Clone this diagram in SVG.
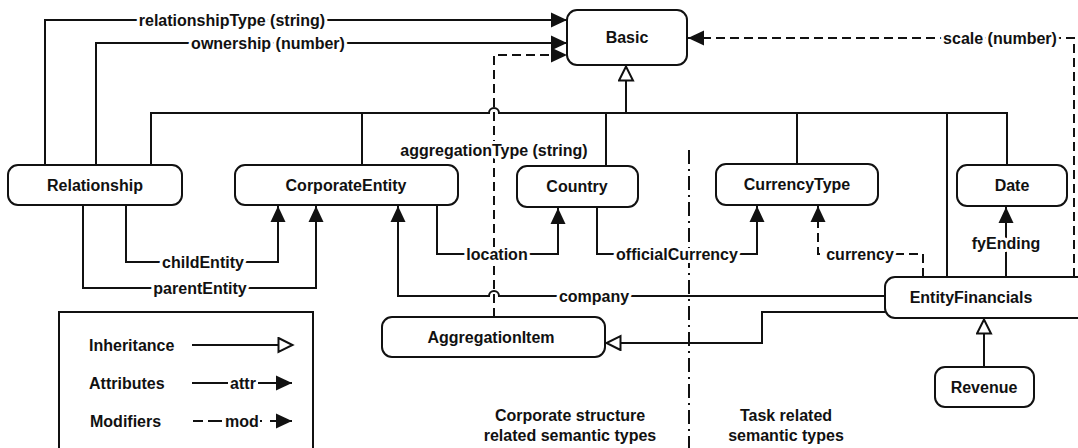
<svg xmlns="http://www.w3.org/2000/svg" width="1078" height="448" viewBox="0 0 1078 448">
<style>
text{font-family:"Liberation Sans",Arial,sans-serif;font-size:16px;font-weight:bold;fill:#111}
.node rect{fill:#fff;stroke:#111;stroke-width:2}
.c{fill:none;stroke:#111;stroke-width:2}
.d{stroke-dasharray:9,5}
.lbl{text-anchor:middle;stroke:#fff;stroke-width:6;paint-order:stroke;stroke-linejoin:round}
.nt{text-anchor:middle}
</style>
<defs>
<marker id="fa" markerUnits="userSpaceOnUse" markerWidth="18" markerHeight="18" refX="16" refY="8" orient="auto">
<path d="M0,0.5 L16,8 L0,15.5 z" fill="#111" stroke="none"/>
</marker>
<marker id="ha" markerUnits="userSpaceOnUse" markerWidth="20" markerHeight="18" refX="16" refY="8" orient="auto">
<path d="M1.5,1 L15.5,8 L1.5,15 z" fill="#fff" stroke="#111" stroke-width="2" stroke-dasharray="none"/>
</marker>
</defs>
<g id="connectors">
<path class="c" d="M45,165 V20 H567" marker-end="url(#fa)"/>
<path class="c" d="M96,165 V43 H567" marker-end="url(#fa)"/>
<path class="c" d="M151,165 V113 H489 A5,5 0 0 1 499,113 H1007 V165"/>
<path class="c" d="M362,113 V165 M606,113 V166 M797,113 V164 M947,113 V277"/>
<path class="c" d="M626,113 V66" marker-end="url(#ha)"/>
<path class="c d" d="M494,317 V55 H567" marker-end="url(#fa)"/>
<path class="c d" d="M1074,277 V38 H688" marker-end="url(#fa)"/>
<path class="c" d="M126,205 V262 H278 V206" marker-end="url(#fa)"/>
<path class="c" d="M83,205 V288 H316 V206" marker-end="url(#fa)"/>
<path class="c" d="M437,205 V254 H558 V208" marker-end="url(#fa)"/>
<path class="c" d="M597,207 V254 H757 V206" marker-end="url(#fa)"/>
<path class="c d" d="M923,277 V254 H818 V206" marker-end="url(#fa)"/>
<path class="c" d="M1006,277 V207" marker-end="url(#fa)"/>
<path class="c" d="M885,296 H499 A5,5 0 0 0 489,296 H398 V206" marker-end="url(#fa)"/>
<path class="c" d="M885,312 H762 V343 H606" marker-end="url(#ha)"/>
<path class="c" d="M984,367 V319" marker-end="url(#ha)"/>
<path class="c" d="M689,150 V448" stroke-dasharray="14,5,2,5"/>
<text class="lbl" x="232" y="26">relationshipType (string)</text>
<text class="lbl" x="268" y="49">ownership (number)</text>
<text class="lbl" x="494" y="156">aggregationType (string)</text>
<text class="lbl" x="1000" y="44">scale (number)</text>
<text class="lbl" x="203" y="268">childEntity</text>
<text class="lbl" x="200" y="294">parentEntity</text>
<text class="lbl" x="497" y="260">location</text>
<text class="lbl" x="677" y="260">officialCurrency</text>
<text class="lbl" x="860" y="260">currency</text>
<text class="lbl" x="1006" y="249">fyEnding</text>
<text class="lbl" x="594" y="302">company</text>
</g>
<g id="Basic" class="node"><rect x="567" y="10" width="120" height="55" rx="10"/><text class="nt" x="627" y="43">Basic</text></g>
<g id="Relationship" class="node"><rect x="8" y="165" width="174" height="40" rx="10"/><text class="nt" x="95" y="191">Relationship</text></g>
<g id="CorporateEntity" class="node"><rect x="235" y="165" width="223" height="40" rx="10"/><text class="nt" x="346" y="191">CorporateEntity</text></g>
<g id="Country" class="node"><rect x="517" y="166" width="121" height="41" rx="10"/><text class="nt" x="577" y="192">Country</text></g>
<g id="CurrencyType" class="node"><rect x="716" y="164" width="162" height="41" rx="10"/><text class="nt" x="797" y="190">CurrencyType</text></g>
<g id="Date" class="node"><rect x="957" y="165" width="110" height="41" rx="10"/><text class="nt" x="1012" y="191">Date</text></g>
<g id="EntityFinancials" class="node"><rect x="885" y="277" width="210" height="41" rx="10"/><text class="nt" x="971" y="303">EntityFinancials</text></g>
<g id="AggregationItem" class="node"><rect x="382" y="317" width="223" height="40" rx="10"/><text class="nt" x="491" y="343">AggregationItem</text></g>
<g id="Revenue" class="node"><rect x="935" y="367" width="99" height="40" rx="10"/><text class="nt" x="984" y="393">Revenue</text></g>
<g id="legend">
<rect x="59" y="312" width="254" height="150" fill="#fff" stroke="#111" stroke-width="2"/>
<text x="89" y="351">Inheritance</text>
<text x="89" y="389">Attributes</text>
<text x="90" y="427">Modifiers</text>
<path class="c" d="M192,345 H293" marker-end="url(#ha)"/>
<path class="c" d="M192,383 H228"/>
<path class="c" d="M258,383 H292" marker-end="url(#fa)"/>
<text class="nt" x="243" y="389">attr</text>
<path class="c" d="M193,421 H203 M208,421 H222"/>
<text class="nt" x="242" y="427">mod</text>
<path class="c" d="M260,421 H262"/>
<path class="c" d="M270,421 H292" marker-end="url(#fa)"/>
</g>
<g id="captions">
<text class="nt" x="570" y="421">Corporate structure</text>
<text class="nt" x="570" y="441">related semantic types</text>
<text class="nt" x="786" y="421">Task related</text>
<text class="nt" x="786" y="441">semantic types</text>
</g>
</svg>
